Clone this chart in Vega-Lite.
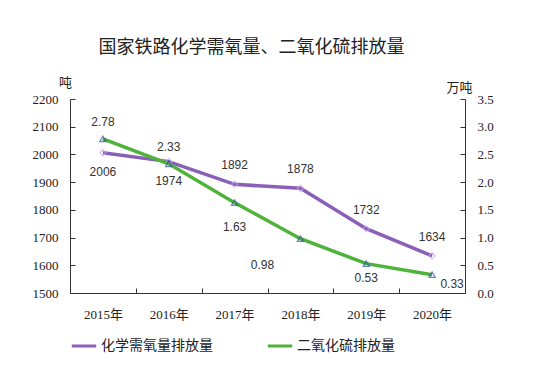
{
  "$schema": "https://vega.github.io/schema/vega-lite/v6.json",
  "width": 395,
  "height": 194,
  "autosize": "none",
  "padding": {"left": 70, "top": 99, "right": 84, "bottom": 73},
  "background": "white",
  "title": {
    "text": "国家铁路化学需氧量、二氧化硫排放量",
    "font": "Noto Sans CJK SC",
    "fontSize": 18,
    "fontWeight": "normal",
    "color": "#222",
    "dx": -16,
    "offset": 19
  },
  "config": {
    "view": {"stroke": null},
    "axis": {"grid": false, "domainColor": "#333", "tickColor": "#333", "labelFont": "Liberation Serif", "labelFontSize": 13, "labelColor": "#222"}
  },
  "data": {
    "values": [
      {"year": "2015年", "series": "化学需氧量排放量", "value": 2006},
      {"year": "2016年", "series": "化学需氧量排放量", "value": 1974},
      {"year": "2017年", "series": "化学需氧量排放量", "value": 1892},
      {"year": "2018年", "series": "化学需氧量排放量", "value": 1878},
      {"year": "2019年", "series": "化学需氧量排放量", "value": 1732},
      {"year": "2020年", "series": "化学需氧量排放量", "value": 1634},
      {"year": "2015年", "series": "二氧化硫排放量", "value": 2.78},
      {"year": "2016年", "series": "二氧化硫排放量", "value": 2.33},
      {"year": "2017年", "series": "二氧化硫排放量", "value": 1.63},
      {"year": "2018年", "series": "二氧化硫排放量", "value": 0.98},
      {"year": "2019年", "series": "二氧化硫排放量", "value": 0.53},
      {"year": "2020年", "series": "二氧化硫排放量", "value": 0.33}
    ]
  },
  "encoding": {
    "x": {
      "field": "year", "type": "nominal",
      "scale": {"type": "band", "paddingInner": 0, "paddingOuter": 0},
      "axis": {"title": null, "labelAngle": 0, "tickBand": "extent", "tickSize": -5, "labelPadding": 20, "labelFont": "Liberation Serif, Noto Sans CJK SC", "labelFontSize": 13}
    }
  },
  "layer": [
    {
      "transform": [{"filter": "datum.series == '化学需氧量排放量'"}],
      "encoding": {
        "y": {
          "field": "value", "type": "quantitative",
          "scale": {"domain": [1500, 2200], "nice": false, "zero": false},
          "axis": {"orient": "left", "values": [1500, 1600, 1700, 1800, 1900, 2000, 2100, 2200], "format": "d", "labelFont": "Liberation Serif", "labelFontSize": 13, "tickSize": -5, "labelPadding": 17, "title": "吨", "titleAngle": 0, "titleFont": "Noto Sans CJK SC", "titleFontSize": 13, "titleFontWeight": "normal", "titleColor": "#222", "titleX": -5, "titleY": -17, "titleAlign": "center", "titleBaseline": "middle"}
        }
      },
      "layer": [
        {
          "mark": {"type": "line", "strokeWidth": 3.5},
          "encoding": {
            "color": {"field": "series", "type": "nominal", "sort": ["化学需氧量排放量", "二氧化硫排放量"], "scale": {"domain": ["化学需氧量排放量", "二氧化硫排放量"], "range": ["#8a5fb8", "#4fb23a"]},
              "legend": {"title": null, "orient": "bottom", "direction": "horizontal", "offset": 11, "symbolType": "stroke", "symbolStrokeWidth": 3, "symbolSize": 600, "labelFont": "Noto Sans CJK SC", "labelFontSize": 14, "labelColor": "#222", "columnPadding": 48, "labelOffset": 3}}
          }
        },
        {
          "mark": {"type": "point", "shape": "diamond", "filled": false, "stroke": "#c9a3e6", "strokeWidth": 1.2, "size": 40}
        },
        {
          "transform": [{"filter": {"field": "year", "oneOf": ["2015年", "2016年"]}}],
          "mark": {"type": "text", "dy": 19, "font": "Liberation Sans", "fontSize": 12, "color": "#333"},
          "encoding": {"text": {"field": "value", "type": "quantitative", "format": "d"}}
        },
        {
          "transform": [{"filter": {"field": "year", "oneOf": ["2017年", "2018年", "2019年", "2020年"]}}],
          "mark": {"type": "text", "dy": -19, "font": "Liberation Sans", "fontSize": 12, "color": "#333"},
          "encoding": {"text": {"field": "value", "type": "quantitative", "format": "d"}}
        }
      ]
    },
    {
      "transform": [{"filter": "datum.series == '二氧化硫排放量'"}],
      "encoding": {
        "y": {
          "field": "value", "type": "quantitative",
          "scale": {"domain": [0, 3.5], "nice": false},
          "axis": {"orient": "right", "values": [0, 0.5, 1, 1.5, 2, 2.5, 3, 3.5], "format": ".1f", "labelFont": "Liberation Serif", "labelFontSize": 13, "tickSize": -5, "labelPadding": 17, "title": "万吨", "titleAngle": 0, "titleFont": "Noto Sans CJK SC", "titleFontSize": 13, "titleFontWeight": "normal", "titleColor": "#222", "titleX": -6, "titleY": -12, "titleAlign": "center", "titleBaseline": "middle"}
        }
      },
      "layer": [
        {
          "mark": {"type": "line", "strokeWidth": 3.5},
          "encoding": {"color": {"field": "series", "type": "nominal"}}
        },
        {
          "mark": {"type": "point", "shape": "triangle-up", "filled": false, "stroke": "#2a4ea6", "strokeWidth": 1.2, "size": 40}
        },
        {
          "transform": [{"filter": {"field": "year", "oneOf": ["2015年", "2016年"]}}],
          "mark": {"type": "text", "dy": -17, "font": "Liberation Sans", "fontSize": 12, "color": "#333"},
          "encoding": {"text": {"field": "value", "type": "quantitative", "format": ".2f"}}
        },
        {
          "transform": [{"filter": {"field": "year", "equal": "2017年"}}],
          "mark": {"type": "text", "dy": 24, "font": "Liberation Sans", "fontSize": 12, "color": "#333"},
          "encoding": {"text": {"field": "value", "type": "quantitative", "format": ".2f"}}
        },
        {
          "transform": [{"filter": {"field": "year", "equal": "2018年"}}],
          "mark": {"type": "text", "dx": -38, "dy": 26, "font": "Liberation Sans", "fontSize": 12, "color": "#333"},
          "encoding": {"text": {"field": "value", "type": "quantitative", "format": ".2f"}}
        },
        {
          "transform": [{"filter": {"field": "year", "equal": "2019年"}}],
          "mark": {"type": "text", "dy": 14, "font": "Liberation Sans", "fontSize": 12, "color": "#333"},
          "encoding": {"text": {"field": "value", "type": "quantitative", "format": ".2f"}}
        },
        {
          "transform": [{"filter": {"field": "year", "equal": "2020年"}}],
          "mark": {"type": "text", "dx": 20, "dy": 9, "font": "Liberation Sans", "fontSize": 12, "color": "#333"},
          "encoding": {"text": {"field": "value", "type": "quantitative", "format": ".2f"}}
        }
      ]
    }
  ],
  "resolve": {"scale": {"y": "independent"}}
}
